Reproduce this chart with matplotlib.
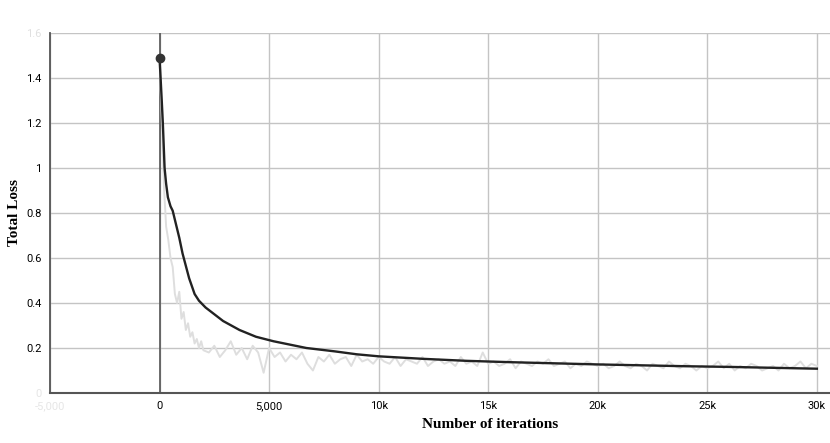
import matplotlib.pyplot as plt
import numpy as np

# raw loss, logged every 100 iterations early on, then every 250
raw_steps = np.concatenate([np.arange(0, 2001, 100), np.arange(2250, 30001, 250)])
raw_loss = [
    1.49, 1.22, 0.92, 0.74, 0.68, 0.60, 0.56, 0.44, 0.40, 0.45, 0.33,
    0.36, 0.28, 0.31, 0.25, 0.27, 0.22, 0.24, 0.20, 0.23, 0.19,
    0.18, 0.21, 0.16, 0.19, 0.23, 0.17, 0.20, 0.15, 0.21, 0.18,
    0.09, 0.20, 0.16, 0.18, 0.14, 0.17, 0.15, 0.18, 0.13, 0.10,
    0.16, 0.14, 0.17, 0.13, 0.15, 0.16, 0.12, 0.17, 0.14, 0.15, 0.13, 0.16,
    0.14, 0.13, 0.16, 0.12, 0.15, 0.14, 0.13, 0.16, 0.12, 0.14,
    0.15, 0.13, 0.14, 0.12, 0.16, 0.13, 0.14, 0.12, 0.18, 0.13,
    0.14, 0.12, 0.13, 0.15, 0.11, 0.14, 0.13, 0.12, 0.14, 0.13,
    0.15, 0.12, 0.13, 0.14, 0.11, 0.13, 0.12, 0.14, 0.13, 0.12,
    0.13, 0.11, 0.12, 0.14, 0.12, 0.11, 0.13, 0.12, 0.10, 0.13,
    0.12, 0.11, 0.14, 0.12, 0.11, 0.13, 0.12, 0.10, 0.12, 0.11,
    0.12, 0.14, 0.11, 0.13, 0.10, 0.12, 0.11, 0.13, 0.12, 0.10,
    0.11, 0.12, 0.10, 0.13, 0.11, 0.12, 0.14, 0.11, 0.13, 0.12,
]

# smoothed curve
smooth_steps = [0, 100, 150, 230, 300, 380, 500, 600, 700, 900, 1050, 1350,
                1600, 1800, 2100, 2900, 3650, 4400, 5200, 6700, 8000, 9000,
                10000, 12000, 14000, 16000, 18000, 20000, 22000, 24000,
                26000, 28000, 30000]
smooth_loss = [1.49, 1.30, 1.20, 1.00, 0.93, 0.87, 0.83, 0.81, 0.77, 0.69,
               0.62, 0.51, 0.44, 0.41, 0.38, 0.32, 0.28, 0.25, 0.23, 0.20,
               0.185, 0.172, 0.163, 0.152, 0.143, 0.137, 0.132, 0.127,
               0.123, 0.119, 0.116, 0.112, 0.108]

x_ticks = [-5000, 0, 5000, 10000, 15000, 20000, 25000, 30000]
x_labels = ['-5,000', '0', '5,000', '10k', '15k', '20k', '25k', '30k']
y_ticks = [0, 0.2, 0.4, 0.6, 0.8, 1.0, 1.2, 1.4, 1.6]
y_labels = ['0', '0.2', '0.4', '0.6', '0.8', '1', '1.2', '1.4', '1.6']

fig = plt.figure(figsize=(8.3, 4.43), dpi=100)
ax = fig.add_axes([50 / 830, 1 - 393 / 443, 780 / 830, 360 / 443])

ax.plot(raw_steps, raw_loss, color='#dedede', linewidth=1.4, zorder=2)
ax.plot(smooth_steps, smooth_loss, color='#222222', linewidth=1.7, zorder=3)
ax.plot(smooth_steps[0], smooth_loss[0], 'o', color='#333333', markersize=6, zorder=4)

ax.axvline(0, color='#555555', linewidth=1.2, zorder=1)

ax.set_xlim(-5000, 30600)
ax.set_ylim(0, 1.6)
ax.set_xticks(x_ticks)
ax.set_xticklabels(x_labels, fontsize=8, family='Roboto')
ax.set_yticks(y_ticks)
ax.set_yticklabels(y_labels, fontsize=8, family='Roboto')
ax.tick_params(axis='x', length=0, pad=6)
ax.tick_params(axis='y', length=0, pad=6)

# faded end labels
ax.get_xticklabels()[0].set_color('#e6e6e6')
ax.get_yticklabels()[0].set_color('#e6e6e6')
ax.get_yticklabels()[-1].set_color('#e0e0e0')

ax.grid(True, color='#c4c4c4', linewidth=1.0, zorder=0)
ax.set_axisbelow(True)
for s in ['top', 'right']:
    ax.spines[s].set_visible(False)
ax.spines['left'].set_color('#555555')
ax.spines['bottom'].set_color('#555555')
ax.spines['left'].set_linewidth(1.3)
ax.spines['bottom'].set_linewidth(1.5)

ax.set_xlabel('Number of iterations', fontsize=11, fontweight='bold',
              family='Liberation Serif')
ax.set_ylabel('Total Loss', fontsize=11, fontweight='bold',
              family='Liberation Serif')
ax.xaxis.set_label_coords((490 - 50) / 780, -(425 - 393) / 360)
ax.yaxis.set_label_coords((15 - 50) / 780, (393 - 212) / 360)
ax.xaxis.label.set_va('center')
ax.yaxis.label.set_va('center')

plt.savefig('out.png', dpi=100)
